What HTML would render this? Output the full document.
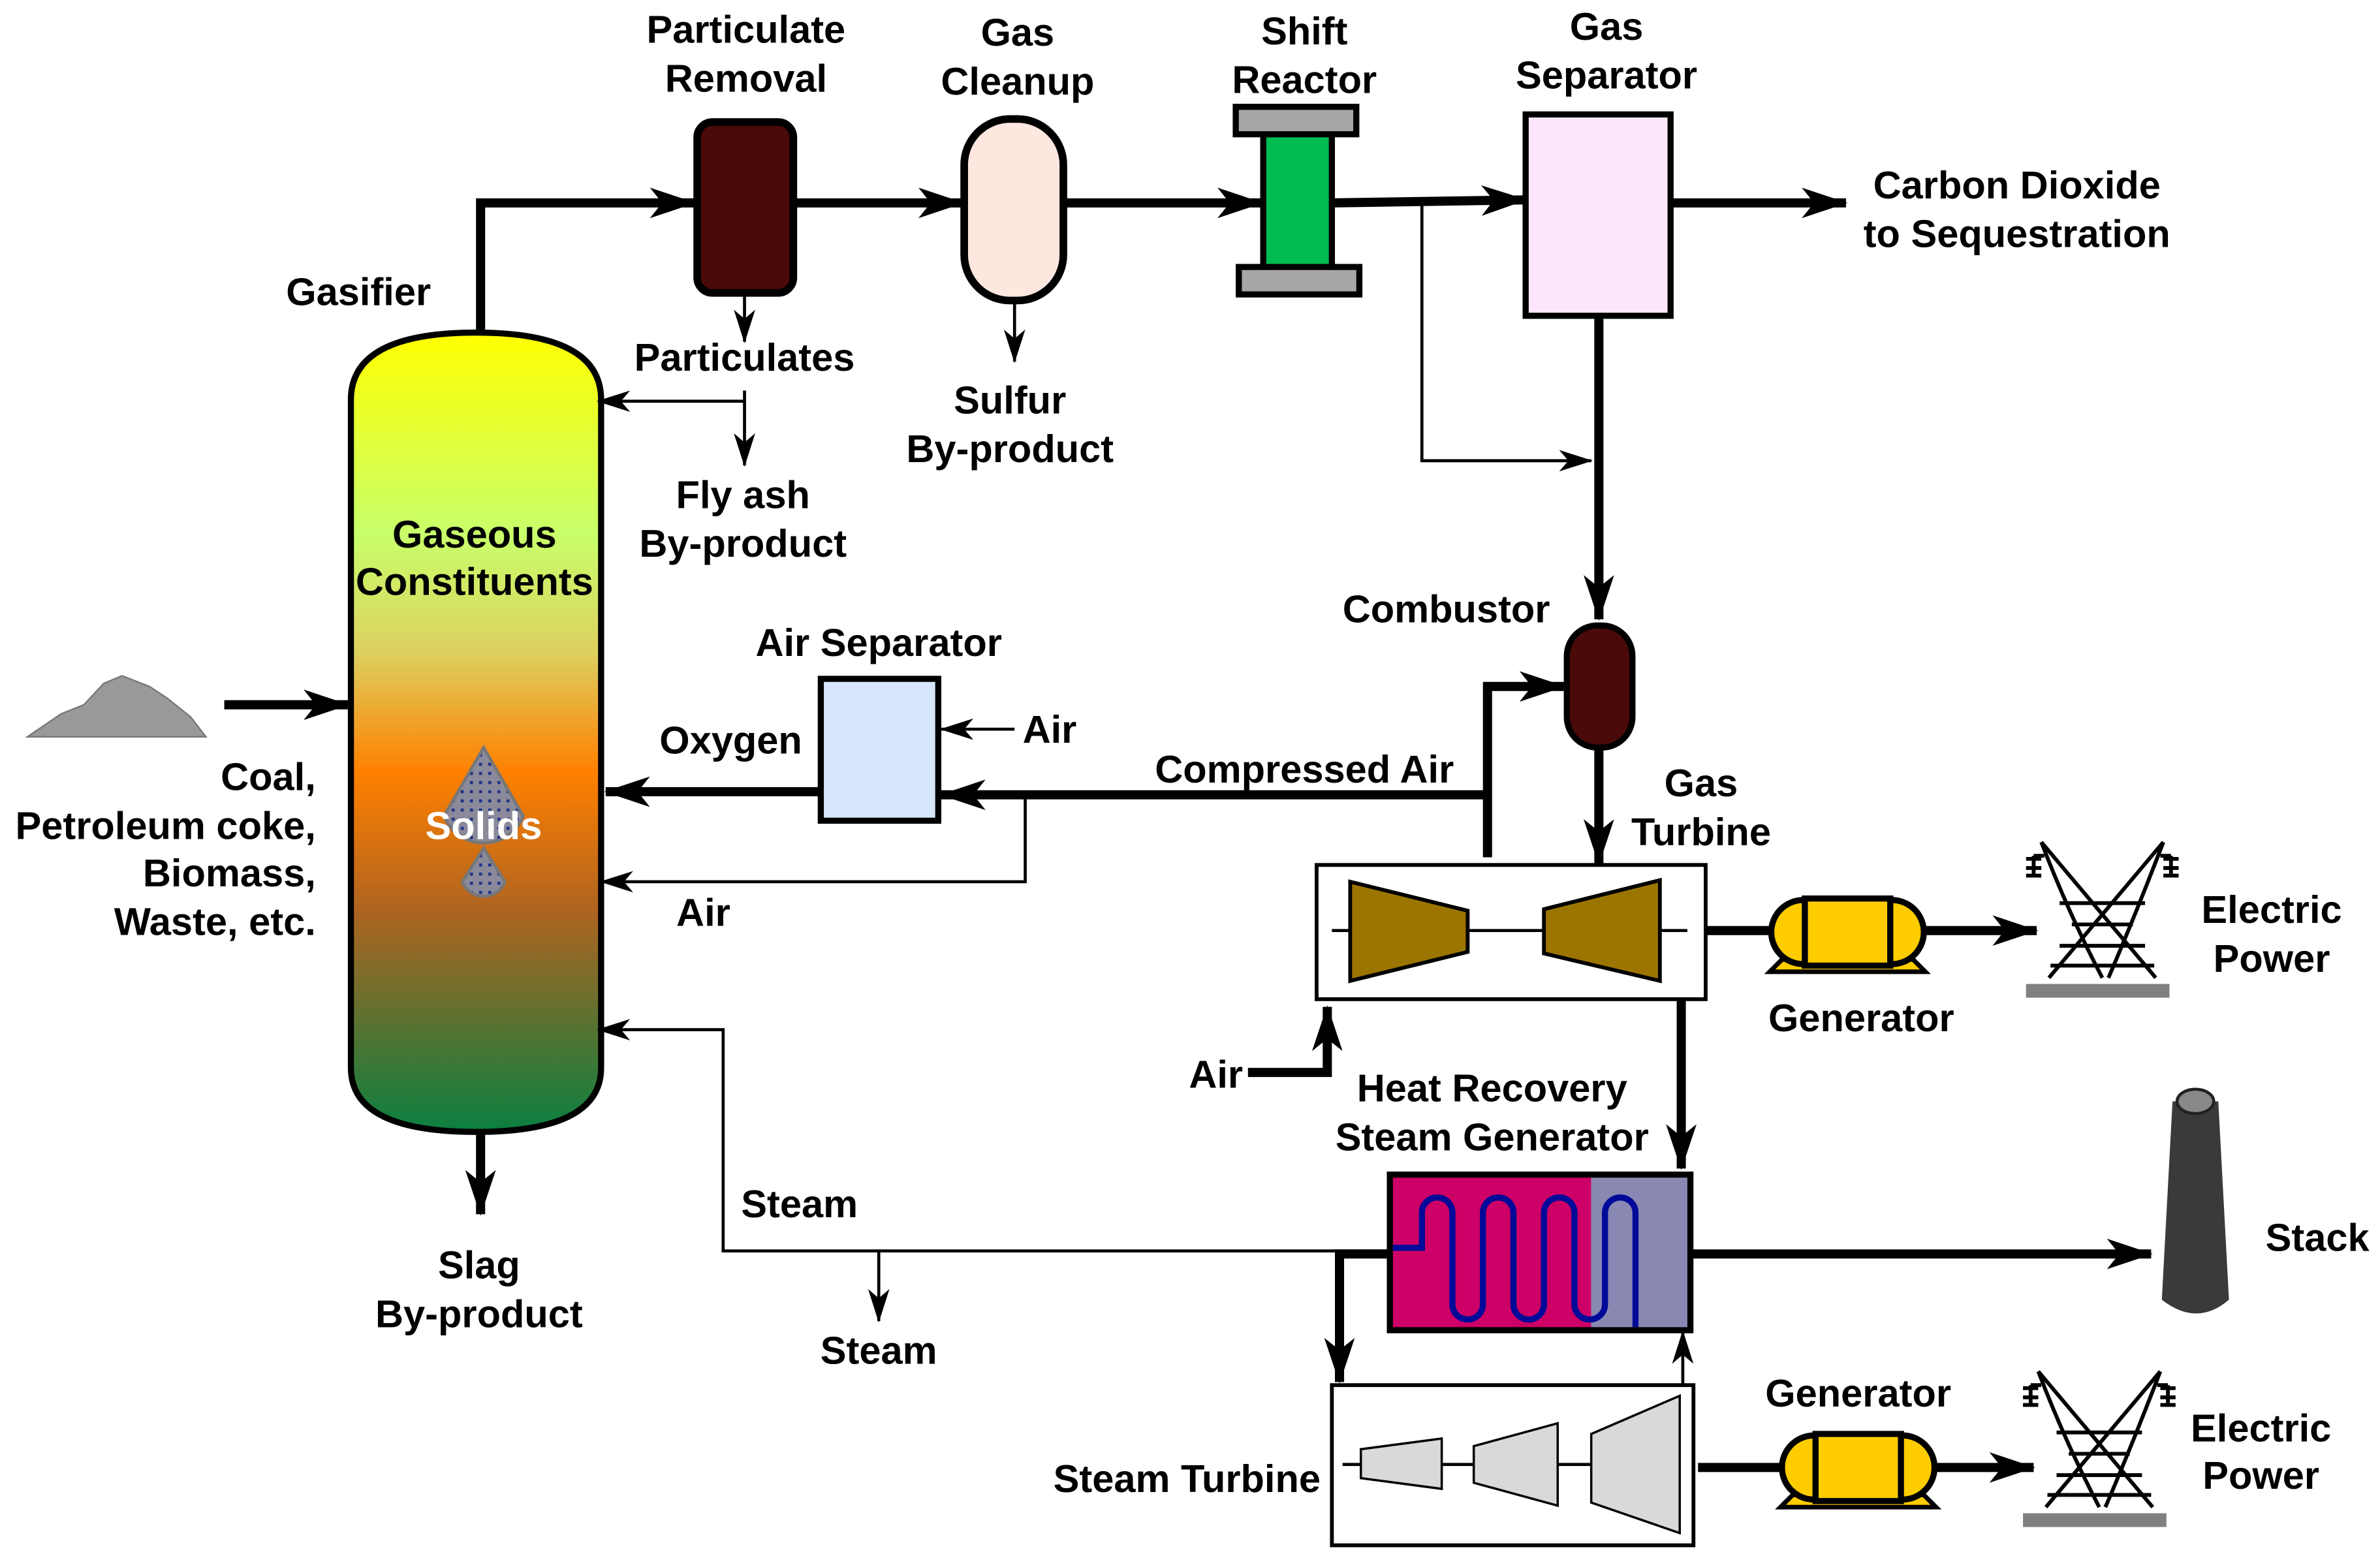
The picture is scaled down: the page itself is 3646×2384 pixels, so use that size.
<!DOCTYPE html>
<html><head><meta charset="utf-8"><style>
html,body{margin:0;padding:0;background:#fff}
svg{display:block}
text{font-family:"Liberation Sans",sans-serif;font-weight:bold;font-size:25.5px;fill:#000}
</style></head><body>
<svg width="3646" height="2384" viewBox="0 0 1560 1020" xmlns="http://www.w3.org/2000/svg">
<defs>
<marker id="a" markerWidth="30" markerHeight="20" refX="29" refY="10" orient="auto" markerUnits="userSpaceOnUse">
<path d="M0,0 L30,10 L0,20 L8,10 Z" fill="#000"/></marker>
<marker id="b" markerWidth="22" markerHeight="14" refX="21" refY="7" orient="auto" markerUnits="userSpaceOnUse">
<path d="M0,0 L22,7 L0,14 L6,7 Z" fill="#000"/></marker>
<linearGradient id="g" x1="0" y1="0" x2="0" y2="1">
<stop offset="0" stop-color="#ffff00"/>
<stop offset="0.25" stop-color="#c8ff6a"/>
<stop offset="0.4" stop-color="#ddd060"/>
<stop offset="0.55" stop-color="#ff8000"/>
<stop offset="0.72" stop-color="#b06420"/>
<stop offset="1" stop-color="#0a8040"/>
</linearGradient>
<pattern id="p" width="6" height="6" patternUnits="userSpaceOnUse"><rect width="6" height="6" fill="#8a8a9a"/><rect x="2" y="2" width="2" height="2" fill="#223388"/></pattern>
<g id="tower" fill="none" stroke="#000" stroke-width="2.5">
<rect x="0" y="96" width="94" height="9" fill="#808080" stroke="none"/>
<path d="M10,3 Q28,50 50,92 M90,3 Q72,50 54,92 M10,3 L85,92 M90,3 L15,92"/>
<path d="M22,43 L78,43 M30,57 L70,57 M22,71 L78,71 M16,84 L84,84"/>
<path d="M5,12 L5,26 M0,14 L10,14 M0,20 L10,20 M0,25 L10,25 M5,12 L12,12 M95,12 L95,26 M90,14 L100,14 M90,20 L100,20 M90,25 L100,25 M88,12 L95,12"/>
</g>
<g id="gen">
<path d="M0,48 L8,40 L94,40 L102,48 Z" fill="#ffcc00" stroke="#000" stroke-width="3"/>
<rect x="1" y="1" width="100" height="42" rx="21" fill="#ffcc00" stroke="#000" stroke-width="4"/>
<rect x="23" y="0" width="56" height="44" fill="#ffcc00" stroke="#000" stroke-width="4"/>
</g>
</defs>
<g text-anchor="middle">
<path d="M230,262 Q230,218 312,218 Q394,218 394,262 L394,700 Q394,742 312,742 Q230,742 230,700 Z" fill="url(#g)" stroke="#000" stroke-width="4"/>
<text x="311" y="359">Gaseous</text>
<text x="311" y="390">Constituents</text>
<path d="M317,490 L343,535 A28,28 0 0 1 291,535 Z" fill="url(#p)" stroke="#777" stroke-width="2"/>
<path d="M317,556 L331,578 A15,15 0 0 1 303,578 Z" fill="url(#p)" stroke="#777" stroke-width="2"/>
<text x="317" y="550" style="fill:#fff">Solids</text>
<text x="235" y="200">Gasifier</text>

<polyline points="315,218 315,133 455,133" fill="none" stroke="#000" stroke-width="6" marker-end="url(#a)"/>
<rect x="457" y="80" width="63" height="112" rx="10" fill="#4a0a0a" stroke="#000" stroke-width="5"/>
<text x="489" y="28">Particulate</text><text x="489" y="60">Removal</text>
<line x1="520" y1="133" x2="631" y2="133" stroke="#000" stroke-width="6" marker-end="url(#a)"/>
<rect x="632" y="78" width="65" height="119" rx="30" fill="#fde7df" stroke="#000" stroke-width="5"/>
<text x="667" y="30">Gas</text><text x="667" y="62">Cleanup</text>
<line x1="697" y1="133" x2="827" y2="133" stroke="#000" stroke-width="6" marker-end="url(#a)"/>
<rect x="828" y="86" width="45" height="92" fill="#00bb4f" stroke="#000" stroke-width="4"/>
<rect x="810" y="70" width="79" height="18" fill="#a6a6a6" stroke="#000" stroke-width="4"/>
<rect x="812" y="175" width="79" height="18" fill="#a6a6a6" stroke="#000" stroke-width="4"/>
<text x="855" y="29">Shift</text><text x="855" y="61">Reactor</text>
<line x1="873" y1="133" x2="1000" y2="131" stroke="#000" stroke-width="6" marker-end="url(#a)"/>
<polyline points="932,133 932,302 1043,302" fill="none" stroke="#000" stroke-width="2" marker-end="url(#b)"/>
<rect x="1000" y="75" width="95" height="132" fill="#fde6fb" stroke="#000" stroke-width="4"/>
<text x="1053" y="26">Gas</text><text x="1053" y="58">Separator</text>
<line x1="1095" y1="133" x2="1210" y2="133" stroke="#000" stroke-width="6" marker-end="url(#a)"/>
<text x="1322" y="130">Carbon Dioxide</text><text x="1322" y="162">to Sequestration</text>
<line x1="1048" y1="207" x2="1048" y2="406" stroke="#000" stroke-width="6" marker-end="url(#a)"/>

<line x1="488" y1="192" x2="488" y2="224" stroke="#000" stroke-width="2" marker-end="url(#b)"/>
<text x="488" y="243">Particulates</text>
<line x1="488" y1="256" x2="488" y2="305" stroke="#000" stroke-width="2" marker-end="url(#b)"/>
<line x1="488" y1="263" x2="392" y2="263" stroke="#000" stroke-width="2" marker-end="url(#b)"/>
<text x="487" y="333">Fly ash</text><text x="487" y="365">By-product</text>
<line x1="665" y1="197" x2="665" y2="237" stroke="#000" stroke-width="2" marker-end="url(#b)"/>
<text x="662" y="271">Sulfur</text><text x="662" y="303">By-product</text>

<rect x="1027" y="410" width="43" height="80" rx="20" fill="#4a0a0a" stroke="#000" stroke-width="4"/>
<text x="948" y="408">Combustor</text>
<polyline points="975,562 975,450 1025,450" fill="none" stroke="#000" stroke-width="6" marker-end="url(#a)"/>
<line x1="1048" y1="490" x2="1048" y2="566" stroke="#000" stroke-width="6" marker-end="url(#a)"/>
<text x="1115" y="522">Gas</text><text x="1115" y="554">Turbine</text>

<rect x="863" y="567" width="255" height="88" fill="#fff" stroke="#000" stroke-width="2.5"/>
<line x1="873" y1="610" x2="1106" y2="610" stroke="#000" stroke-width="2"/>
<path d="M885,578 L962,597 L962,624 L885,643 Z" fill="#9c7400" stroke="#000" stroke-width="2.5"/>
<path d="M1012,596 L1088,577 L1088,643 L1012,625 Z" fill="#9c7400" stroke="#000" stroke-width="2.5"/>
<line x1="1118" y1="610" x2="1162" y2="610" stroke="#000" stroke-width="6"/>
<use href="#gen" x="1160" y="589"/>
<line x1="1262" y1="610" x2="1335" y2="610" stroke="#000" stroke-width="6" marker-end="url(#a)"/>
<use href="#tower" x="1328" y="549"/>
<text x="1489" y="605">Electric</text><text x="1489" y="637">Power</text>
<text x="1220" y="676">Generator</text>
<polyline points="818,703 870,703 870,660" fill="none" stroke="#000" stroke-width="6" marker-end="url(#a)"/>
<text x="797" y="713">Air</text>
<line x1="1102" y1="655" x2="1102" y2="766" stroke="#000" stroke-width="6" marker-end="url(#a)"/>
<text x="978" y="722">Heat Recovery</text><text x="978" y="754">Steam Generator</text>

<rect x="911" y="770" width="132" height="102" fill="#cc0066"/>
<rect x="1043" y="770" width="65" height="102" fill="#8888b2"/>
<rect x="911" y="770" width="197" height="102" fill="none" stroke="#000" stroke-width="4"/>
<path d="M913,818 L932,818 L932,795 A10,10 0 0 1 952,795 L952,855 A10,10 0 0 0 972,855 L972,795 A10,10 0 0 1 992,795 L992,855 A10,10 0 0 0 1012,855 L1012,795 A10,10 0 0 1 1032,795 L1032,855 A10,10 0 0 0 1052,855 L1052,795 A10,10 0 0 1 1072,795 L1072,870" fill="none" stroke="#000a99" stroke-width="4"/>
<line x1="1108" y1="822" x2="1410" y2="822" stroke="#000" stroke-width="6" marker-end="url(#a)"/>
<path d="M1424,722 L1454,722 L1461,852 Q1440,870 1417,852 Z" fill="#3a3a3a"/>
<ellipse cx="1439" cy="722" rx="12" ry="8" fill="#888" stroke="#222" stroke-width="2"/>
<text x="1519" y="820">Stack</text>

<polyline points="911,820 474,820 474,675 392,675" fill="none" stroke="#000" stroke-width="2" marker-end="url(#b)"/>
<line x1="576" y1="820" x2="576" y2="866" stroke="#000" stroke-width="2" marker-end="url(#b)"/>
<text x="524" y="798">Steam</text><text x="576" y="894">Steam</text>
<polyline points="911,822 878,822 878,906" fill="none" stroke="#000" stroke-width="6" marker-end="url(#a)"/>
<line x1="1103" y1="908" x2="1103" y2="873" stroke="#000" stroke-width="2" marker-end="url(#b)"/>

<rect x="873" y="908" width="237" height="105" fill="#fff" stroke="#000" stroke-width="2.5"/>
<line x1="880" y1="960" x2="1100" y2="960" stroke="#000" stroke-width="2"/>
<path d="M892,950 L945,943 L945,976 L892,969 Z" fill="#d9d9d9" stroke="#000" stroke-width="1.5"/>
<path d="M966,948 L1021,933 L1021,987 L966,972 Z" fill="#d9d9d9" stroke="#000" stroke-width="1.5"/>
<path d="M1043,940 L1101,915 L1101,1005 L1043,985 Z" fill="#d9d9d9" stroke="#000" stroke-width="1.5"/>
<text x="778" y="978">Steam Turbine</text>
<line x1="1113" y1="962" x2="1168" y2="962" stroke="#000" stroke-width="6"/>
<use href="#gen" x="1167" y="940"/>
<line x1="1268" y1="962" x2="1333" y2="962" stroke="#000" stroke-width="6" marker-end="url(#a)"/>
<use href="#tower" x="1326" y="896"/>
<text x="1482" y="945">Electric</text><text x="1482" y="976">Power</text>
<text x="1218" y="922">Generator</text>

<rect x="538" y="445" width="77" height="93" fill="#d6e6fb" stroke="#000" stroke-width="4"/>
<text x="576" y="430">Air Separator</text>
<line x1="665" y1="478" x2="617" y2="478" stroke="#000" stroke-width="2" marker-end="url(#b)"/>
<text x="688" y="487">Air</text>
<line x1="975" y1="521" x2="617" y2="521" stroke="#000" stroke-width="6" marker-end="url(#a)"/>
<text x="855" y="513">Compressed Air</text>
<line x1="538" y1="519" x2="397" y2="519" stroke="#000" stroke-width="6" marker-end="url(#a)"/>
<text x="479" y="494">Oxygen</text>
<polyline points="672,521 672,578 394,578" fill="none" stroke="#000" stroke-width="2" marker-end="url(#b)"/>
<text x="461" y="607">Air</text>

<path d="M18,483 L40,468 L55,462 L68,448 L80,443 L98,450 L110,458 L125,470 L135,483 Z" fill="#999" stroke="#777" stroke-width="1"/>
<line x1="147" y1="462" x2="228" y2="462" stroke="#000" stroke-width="6" marker-end="url(#a)"/>

<line x1="315" y1="742" x2="315" y2="796" stroke="#000" stroke-width="6" marker-end="url(#a)"/>
<text x="314" y="838">Slag</text><text x="314" y="870">By-product</text>
</g>
<g text-anchor="end">
<text x="207" y="518">Coal,</text>
<text x="207" y="550">Petroleum coke,</text>
<text x="207" y="581">Biomass,</text>
<text x="207" y="613">Waste, etc.</text>
</g>
</svg>
</body></html>
